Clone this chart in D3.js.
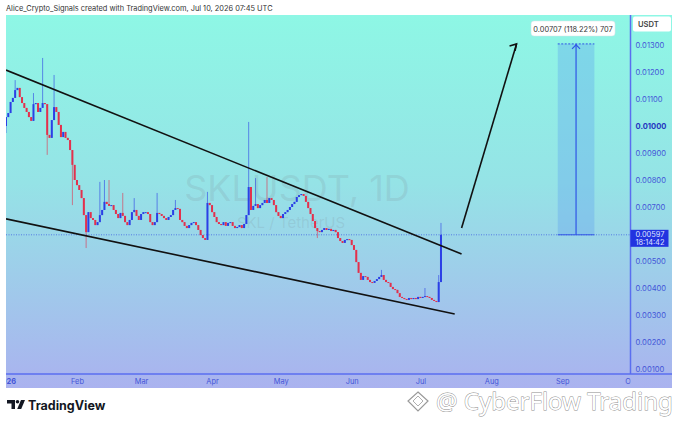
<!DOCTYPE html>
<html>
<head>
<meta charset="utf-8">
<script src="https://cdn.jsdelivr.net/npm/d3@7/dist/d3.min.js"></script>
<style>
  body { margin: 0; background: #fff; }
  svg { display: block; font-family: Inter, "Liberation Sans", sans-serif; }
</style>
</head>
<body>
<script>
// daily closes, Jan 1 2026 .. Jul 10 2026
const startDate = "2026-01-01";
const firstOpen = 0.01000;
const closes = [
  0.01033, 0.01048, 0.01089, 0.01104, 0.01133, 0.01141, 0.01107, 0.01085, 0.01067, 0.01052,
  0.01033, 0.01019, 0.01081, 0.01085, 0.01052, 0.01067, 0.01085, 0.01081, 0.00967, 0.00956,
  0.01022, 0.01070, 0.01052, 0.01004, 0.00959, 0.00978, 0.00956, 0.00948, 0.00911, 0.00856,
  0.00800, 0.00781, 0.00763, 0.00733, 0.00670, 0.00607, 0.00681, 0.00659, 0.00652, 0.00633,
  0.00644, 0.00670, 0.00689, 0.00719, 0.00711, 0.00704, 0.00707, 0.00689, 0.00674, 0.00659,
  0.00678, 0.00667, 0.00644, 0.00633, 0.00652, 0.00681, 0.00689, 0.00667, 0.00652, 0.00674,
  0.00681, 0.00681, 0.00674, 0.00644, 0.00633, 0.00644, 0.00678, 0.00674, 0.00667, 0.00659,
  0.00652, 0.00663, 0.00670, 0.00689, 0.00696, 0.00693, 0.00652, 0.00644, 0.00630, 0.00622,
  0.00633, 0.00641, 0.00644, 0.00633, 0.00615, 0.00596, 0.00585, 0.00578, 0.00715, 0.00707,
  0.00681, 0.00663, 0.00644, 0.00637, 0.00633, 0.00644, 0.00630, 0.00641, 0.00644, 0.00630,
  0.00622, 0.00626, 0.00633, 0.00622, 0.00637, 0.00670, 0.00774, 0.00689, 0.00704, 0.00711,
  0.00696, 0.00707, 0.00715, 0.00726, 0.00715, 0.00733, 0.00726, 0.00707, 0.00681, 0.00667,
  0.00659, 0.00674, 0.00681, 0.00689, 0.00700, 0.00711, 0.00719, 0.00737, 0.00744, 0.00748,
  0.00741, 0.00719, 0.00696, 0.00674, 0.00648, 0.00622, 0.00611, 0.00607, 0.00615, 0.00622,
  0.00615, 0.00619, 0.00611, 0.00615, 0.00607, 0.00585, 0.00574, 0.00567, 0.00578, 0.00581,
  0.00578, 0.00559, 0.00541, 0.00496, 0.00456, 0.00430, 0.00444, 0.00441, 0.00430, 0.00422,
  0.00419, 0.00426, 0.00433, 0.00441, 0.00448, 0.00430, 0.00422, 0.00419, 0.00404, 0.00396,
  0.00393, 0.00381, 0.00367, 0.00363, 0.00359, 0.00356, 0.00363, 0.00359, 0.00363, 0.00359,
  0.00367, 0.00363, 0.00367, 0.00370, 0.00367, 0.00363, 0.00356, 0.00352, 0.00348, 0.00422,
  0.00597
];
// visible wick extremes
const wickHighs = [
  ["2026-01-05", 0.01170], ["2026-01-13", 0.01122], ["2026-01-17", 0.01252], ["2026-01-22", 0.01189],
  ["2026-02-11", 0.00793], ["2026-02-13", 0.00800], ["2026-02-15", 0.00800], ["2026-02-21", 0.00752],
  ["2026-02-26", 0.00733], ["2026-03-08", 0.00752], ["2026-03-16", 0.00726], ["2026-03-30", 0.00756],
  ["2026-04-17", 0.01015], ["2026-04-20", 0.00807], ["2026-04-25", 0.00811], ["2026-06-14", 0.00467],
  ["2026-07-03", 0.00400], ["2026-07-09", 0.00448], ["2026-07-10", 0.00641]
];
const wickLows = [
  ["2026-01-01", 0.00974], ["2026-01-19", 0.00893], ["2026-01-30", 0.00707], ["2026-02-05", 0.00548],
  ["2026-05-17", 0.00585]
];
// 0.006 sits under the last-price label, so it is not listed
const priceTicks = [0.001, 0.002, 0.003, 0.004, 0.005, 0.007, 0.008, 0.009, 0.010, 0.011, 0.012, 0.013];
const monthTicks = ["2026-01-01", "2026-02-01", "2026-03-01", "2026-04-01", "2026-05-01", "2026-06-01", "2026-07-01", "2026-08-01", "2026-09-01", "2026-10-01"];
const monthLabels = ["2026", "Feb", "Mar", "Apr", "May", "Jun", "Jul", "Aug", "Sep", "Oct"];
// drawings
const upperLine = [["2026-01-01", 0.01207], ["2026-07-19", 0.00526]];
const lowerLine = [["2026-01-01", 0.00656], ["2026-07-16", 0.00304]];
const targetArrow = [["2026-07-19", 0.00622], ["2026-08-12", 0.01304]];
const measureDates = ["2026-08-30", "2026-09-07", "2026-09-15"];
const measurePrices = [0.00597, 0.01304];
const lastPrice = 0.00597;

const W = 679, H = 423;
const panel = {left: 6, right: 672, top: 15, bottom: 388};
const axisX = 630.5, axisY = 374;
const parse = d3.utcParse("%Y-%m-%d");

const svg = d3.select("body").append("svg").attr("width", W).attr("height", H);

// scales
var x = d3.scaleUtc().domain([parse("2026-01-01"), parse("2026-10-01")]).range([6, 631]);
var y = d3.scaleLinear().domain([0.001, 0.013]).range([369, 45]);

const defs = svg.append("defs");
const grad = defs.append("linearGradient").attr("id", "bg").attr("x1", 0).attr("y1", 0).attr("x2", 0).attr("y2", 1);
grad.append("stop").attr("offset", "0%").attr("stop-color", "#8ef7e5");
grad.append("stop").attr("offset", "45%").attr("stop-color", "#95e3e6");
grad.append("stop").attr("offset", "100%").attr("stop-color", "#aab2ef");
defs.append("clipPath").attr("id", "plot").append("rect")
    .attr("x", panel.left).attr("y", panel.top).attr("width", axisX - panel.left).attr("height", axisY - panel.top);
defs.append("clipPath").attr("id", "xaxis").append("rect")
    .attr("x", panel.left).attr("y", axisY).attr("width", axisX - panel.left).attr("height", panel.bottom - axisY);

// header
svg.append("text").attr("x", 6).attr("y", 11).attr("font-size", 7.4).attr("fill", "#333")
    .text("Alice_Crypto_Signals created with TradingView.com, Jul 10, 2026 07:45 UTC");

// panel background
svg.append("rect").attr("x", panel.left).attr("y", panel.top)
    .attr("width", panel.right - panel.left).attr("height", panel.bottom - panel.top).attr("fill", "url(#bg)");

// symbol watermark
svg.append("text").attr("x", 297).attr("y", 201).attr("text-anchor", "middle").attr("font-size", 36)
    .attr("fill", "#7d8f9a").attr("fill-opacity", 0.2).text("SKLUSDT, 1D");
svg.append("text").attr("x", 291).attr("y", 228).attr("text-anchor", "middle").attr("font-size", 15)
    .attr("fill", "#7d8f9a").attr("fill-opacity", 0.2).text("SKL / TetherUS");

const plot = svg.append("g").attr("clip-path", "url(#plot)");

// measurement box
const mx0 = x(parse(measureDates[0])), mx1 = x(parse(measureDates[2])), mxc = x(parse(measureDates[1]));
plot.append("rect").attr("x", mx0).attr("y", y(measurePrices[1]))
    .attr("width", mx1 - mx0).attr("height", y(measurePrices[0]) - y(measurePrices[1]))
    .attr("fill", "#5b9cf0").attr("fill-opacity", 0.32);
plot.append("line").attr("x1", mx0).attr("x2", mx1).attr("y1", y(measurePrices[1])).attr("y2", y(measurePrices[1]))
    .attr("stroke", "#2f55e6").attr("stroke-dasharray", "2,1.5");
plot.append("line").attr("x1", mx0).attr("x2", mx1).attr("y1", y(measurePrices[0])).attr("y2", y(measurePrices[0]))
    .attr("stroke", "#2f55e6");
plot.append("line").attr("x1", mxc).attr("x2", mxc).attr("y1", y(measurePrices[0])).attr("y2", y(measurePrices[1]))
    .attr("stroke", "#2f55e6").attr("stroke-width", 1.2);
plot.append("path")
    .attr("d", `M${mxc - 4},${y(measurePrices[1]) + 5}L${mxc},${y(measurePrices[1]) + 1}L${mxc + 4},${y(measurePrices[1]) + 5}`)
    .attr("fill", "none").attr("stroke", "#2f55e6").attr("stroke-width", 1.2);

// last price dotted line
plot.append("line").attr("x1", panel.left).attr("x2", axisX).attr("y1", y(lastPrice)).attr("y2", y(lastPrice))
    .attr("stroke", "#3552e0").attr("stroke-dasharray", "1,1.5").attr("stroke-opacity", 0.7);

// candles
const highMap = new Map(wickHighs), lowMap = new Map(wickLows);
const candles = closes.map(function(c, i) {
    var date = d3.utcDay.offset(parse(startDate), i);
    var key = d3.utcFormat("%Y-%m-%d")(date);
    var open = i == 0 ? firstOpen : closes[i - 1];
    var high = Math.max(open, c, highMap.get(key) || 0);
    var low = Math.min(open, c, lowMap.get(key) || 1);
    return {date: date, open: open, close: c, high: high, low: low};
});
const upCol = "#2b3fe6", downCol = "#e3304c";
const cg = plot.append("g");
cg.selectAll(".wick").data(candles).enter().append("line")
    .attr("x1", d => x(d.date)).attr("x2", d => x(d.date))
    .attr("y1", d => y(d.high)).attr("y2", d => y(d.low))
    .attr("stroke", d => d.close >= d.open ? upCol : downCol).attr("stroke-width", 0.8)
    .attr("stroke-opacity", 0.75);
cg.selectAll(".body").data(candles).enter().append("rect")
    .attr("x", d => x(d.date) - 1).attr("width", 2)
    .attr("y", d => y(Math.max(d.open, d.close)))
    .attr("height", d => Math.max(1, Math.abs(y(d.open) - y(d.close))))
    .attr("fill", d => d.close >= d.open ? upCol : downCol);

// trend lines and arrow
const lineGen = d3.line().x(d => x(parse(d[0]))).y(d => y(d[1]));
plot.append("path").attr("d", lineGen(upperLine)).attr("stroke", "#111").attr("stroke-width", 1.6).attr("fill", "none");
plot.append("path").attr("d", lineGen(lowerLine)).attr("stroke", "#111").attr("stroke-width", 1.6).attr("fill", "none");
plot.append("path").attr("d", lineGen(targetArrow)).attr("stroke", "#111").attr("stroke-width", 1.6).attr("fill", "none");
const ax = x(parse(targetArrow[1][0])), ay = y(targetArrow[1][1]);
plot.append("path").attr("d", `M${ax - 7},${ay + 2}L${ax},${ay}L${ax - 1.5},${ay + 7}`)
    .attr("stroke", "#111").attr("stroke-width", 1.6).attr("fill", "none");

// measure label
const lblW = 84, lblX = mxc - 3 - lblW / 2, lblY = 21;
svg.append("rect").attr("x", lblX).attr("y", lblY).attr("width", lblW).attr("height", 15).attr("rx", 3)
    .attr("fill", "#fff").attr("stroke", "#d8e0e6").attr("stroke-width", 0.5);
svg.append("text").attr("x", lblX + lblW / 2).attr("y", lblY + 10.5).attr("text-anchor", "middle")
    .attr("font-size", 7.4).attr("fill", "#333").text("0.00707 (118.22%) 707");

// axes lines
svg.append("line").attr("x1", axisX).attr("x2", axisX).attr("y1", panel.top).attr("y2", axisY)
    .attr("stroke", "#5a6ef0").attr("stroke-width", 1.5);
svg.append("line").attr("x1", panel.left).attr("x2", panel.right).attr("y1", axisY).attr("y2", axisY)
    .attr("stroke", "#5a6ef0").attr("stroke-width", 1.5);

// price axis
const yAxis = d3.axisRight(y).tickValues(priceTicks).tickSize(0).tickPadding(5)
    .tickFormat(d3.format(".5f"));
const yg = svg.append("g").attr("transform", `translate(${axisX},0)`).call(yAxis);
yg.select(".domain").remove();
yg.selectAll("text").attr("font-size", 7.6).attr("font-family", "Inter, sans-serif")
    .attr("font-weight", d => d == 0.010 ? 700 : 400)
    .attr("fill", d => d == 0.010 ? "#2536c0" : "#4456d8");

// USDT box
svg.append("rect").attr("x", 633).attr("y", 16.5).attr("width", 38).attr("height", 15).attr("rx", 2).attr("fill", "#fff");
svg.append("text").attr("x", 638).attr("y", 27).attr("font-size", 7.6).attr("font-weight", 600).attr("fill", "#444").text("USDT");

// last price label
svg.append("rect").attr("x", axisX).attr("y", y(lastPrice) - 5).attr("width", 38).attr("height", 17).attr("fill", "#2233e0");
svg.append("text").attr("x", 635.5).attr("y", y(lastPrice) + 2.5).attr("font-size", 7.4).attr("fill", "#dfe3ff").text("0.00597");
svg.append("text").attr("x", 635.5).attr("y", y(lastPrice) + 10).attr("font-size", 7.4).attr("fill", "#dfe3ff").text("18:14:42");

// time axis
const xAxis = d3.axisBottom(x).tickValues(monthTicks.map(parse)).tickSize(0).tickPadding(5)
    .tickFormat((d, i) => monthLabels[i]);
const xg = svg.append("g").attr("clip-path", "url(#xaxis)").append("g")
    .attr("transform", `translate(0,${axisY})`).call(xAxis);
xg.select(".domain").remove();
xg.selectAll("text").attr("font-size", 7.4).attr("fill", "#4456d8").attr("font-family", "Inter, sans-serif")
    .attr("font-weight", (d, i) => i == 0 ? 700 : 400);

// TradingView logo
const logo = svg.append("g").attr("transform", "translate(7,400)").attr("fill", "#131722");
logo.append("path").attr("d", "M0,0H8V9H4.5V3.5H0Z");
logo.append("circle").attr("cx", 10.5).attr("cy", 1.8).attr("r", 1.8);
logo.append("path").attr("d", "M14,0H18L14.2,9H10.2Z");
svg.append("text").attr("x", 28).attr("y", 410).attr("font-size", 12.5).attr("font-weight", 700)
    .attr("fill", "#131722").text("TradingView");

// CyberFlow watermark
const wm = svg.append("g");
wm.append("path").attr("d", "M418,392L428,401L418,411L408,401Z").attr("fill", "none")
    .attr("stroke", "#9a9a9a").attr("stroke-width", 1.2);
wm.append("path").attr("d", "M418,396L423,401L418,406L413,401Z").attr("fill", "#fff")
    .attr("stroke", "#9a9a9a").attr("stroke-width", 0.8);
wm.append("text").attr("x", 436).attr("y", 410).attr("font-size", 24).attr("font-family", "Noto Sans, sans-serif")
    .attr("fill", "#fff").attr("stroke", "#8c8c8c").attr("stroke-width", 0.9).attr("paint-order", "stroke")
    .text("@ CyberFlow Trading");
</script>
</body>
</html>
